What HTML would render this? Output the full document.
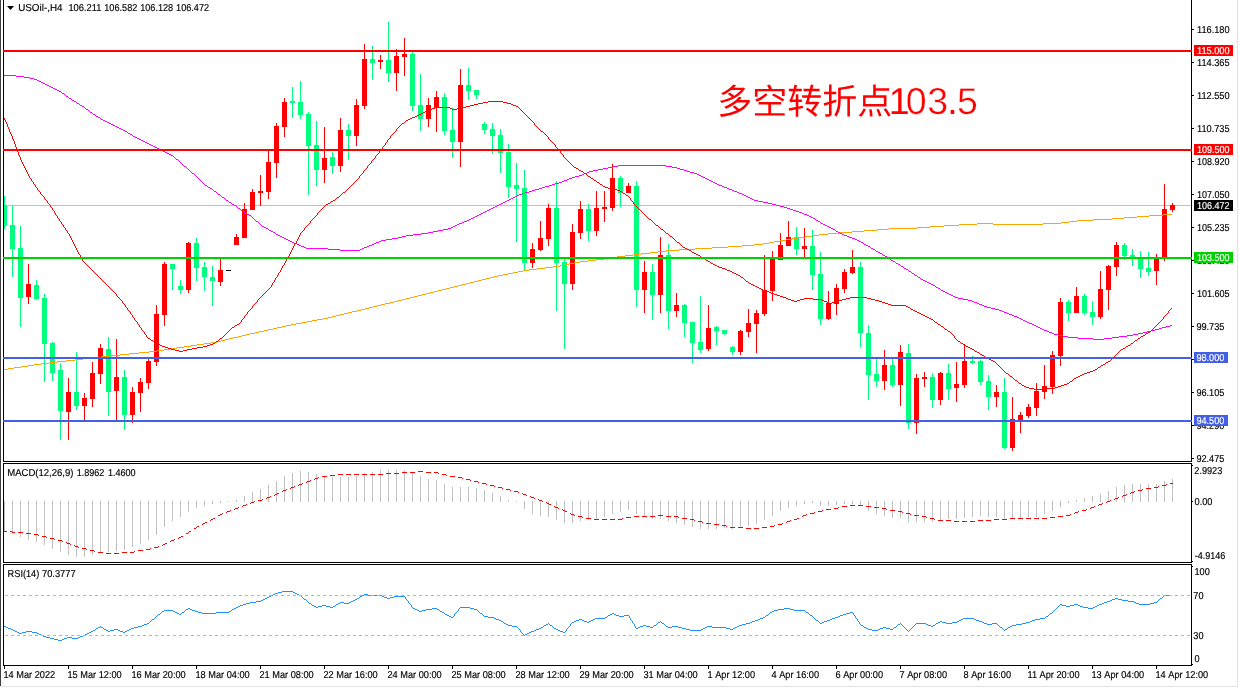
<!DOCTYPE html>
<html><head><meta charset="utf-8"><title>USOil H4</title>
<style>html,body{margin:0;padding:0;background:#fff;overflow:hidden}svg{display:block;will-change:transform}</style></head>
<body>
<svg width="1239" height="688" viewBox="0 0 1239 688" font-family="'Liberation Sans', sans-serif" text-rendering="geometricPrecision">
<rect x="0" y="0" width="1239" height="688" fill="#fff"/>
<g shape-rendering="crispEdges">
<rect x="0" y="0" width="1" height="686" fill="#404040"/>
<rect x="0" y="686" width="1238" height="1" fill="#e3e3e3"/>
<rect x="1237" y="0" width="1" height="686" fill="#e3e3e3"/>
<rect x="4" y="205" width="1187" height="1" fill="#c0c0c0"/>
<rect x="4" y="196" width="1" height="33" fill="#00ff7f"/>
<rect x="4" y="205" width="3" height="21" fill="#00ff7f"/>
<rect x="12" y="205" width="1" height="72" fill="#00ff7f"/>
<rect x="10" y="225" width="5" height="24" fill="#00ff7f"/>
<rect x="20" y="226" width="1" height="101" fill="#00ff7f"/>
<rect x="18" y="248" width="5" height="50" fill="#00ff7f"/>
<rect x="28" y="264" width="1" height="40" fill="#ff0000"/>
<rect x="26" y="284" width="5" height="13" fill="#ff0000"/>
<rect x="36" y="280" width="1" height="20" fill="#00ff7f"/>
<rect x="34" y="285" width="5" height="14" fill="#00ff7f"/>
<rect x="44" y="294" width="1" height="88" fill="#00ff7f"/>
<rect x="42" y="298" width="5" height="46" fill="#00ff7f"/>
<rect x="52" y="342" width="1" height="39" fill="#00ff7f"/>
<rect x="50" y="343" width="5" height="30" fill="#00ff7f"/>
<rect x="60" y="363" width="1" height="77" fill="#00ff7f"/>
<rect x="58" y="370" width="5" height="41" fill="#00ff7f"/>
<rect x="68" y="378" width="1" height="62" fill="#ff0000"/>
<rect x="66" y="392" width="5" height="20" fill="#ff0000"/>
<rect x="76" y="352" width="1" height="58" fill="#00ff7f"/>
<rect x="74" y="392" width="5" height="14" fill="#00ff7f"/>
<rect x="84" y="393" width="1" height="27" fill="#ff0000"/>
<rect x="82" y="398" width="5" height="8" fill="#ff0000"/>
<rect x="92" y="362" width="1" height="45" fill="#ff0000"/>
<rect x="90" y="373" width="5" height="26" fill="#ff0000"/>
<rect x="100" y="344" width="1" height="40" fill="#ff0000"/>
<rect x="98" y="348" width="5" height="26" fill="#ff0000"/>
<rect x="108" y="337" width="1" height="79" fill="#00ff7f"/>
<rect x="106" y="349" width="5" height="43" fill="#00ff7f"/>
<rect x="116" y="339" width="1" height="81" fill="#ff0000"/>
<rect x="114" y="377" width="5" height="14" fill="#ff0000"/>
<rect x="124" y="370" width="1" height="60" fill="#00ff7f"/>
<rect x="122" y="377" width="5" height="38" fill="#00ff7f"/>
<rect x="132" y="387" width="1" height="36" fill="#ff0000"/>
<rect x="130" y="392" width="5" height="23" fill="#ff0000"/>
<rect x="140" y="378" width="1" height="34" fill="#ff0000"/>
<rect x="138" y="382" width="5" height="11" fill="#ff0000"/>
<rect x="148" y="359" width="1" height="30" fill="#ff0000"/>
<rect x="146" y="361" width="5" height="22" fill="#ff0000"/>
<rect x="156" y="305" width="1" height="61" fill="#ff0000"/>
<rect x="154" y="314" width="5" height="48" fill="#ff0000"/>
<rect x="164" y="262" width="1" height="64" fill="#ff0000"/>
<rect x="162" y="264" width="5" height="51" fill="#ff0000"/>
<rect x="172" y="264" width="1" height="26" fill="#00ff7f"/>
<rect x="170" y="264" width="5" height="5" fill="#00ff7f"/>
<rect x="180" y="280" width="1" height="14" fill="#00ff7f"/>
<rect x="178" y="286" width="5" height="4" fill="#00ff7f"/>
<rect x="188" y="242" width="1" height="51" fill="#ff0000"/>
<rect x="186" y="243" width="5" height="47" fill="#ff0000"/>
<rect x="196" y="238" width="1" height="43" fill="#00ff7f"/>
<rect x="194" y="243" width="5" height="25" fill="#00ff7f"/>
<rect x="204" y="262" width="1" height="29" fill="#00ff7f"/>
<rect x="202" y="267" width="5" height="10" fill="#00ff7f"/>
<rect x="212" y="266" width="1" height="40" fill="#00ff7f"/>
<rect x="210" y="277" width="5" height="4" fill="#00ff7f"/>
<rect x="220" y="259" width="1" height="27" fill="#ff0000"/>
<rect x="218" y="270" width="5" height="12" fill="#ff0000"/>
<rect x="226" y="270" width="5" height="1" fill="#000"/>
<rect x="236" y="234" width="1" height="11" fill="#ff0000"/>
<rect x="234" y="237" width="5" height="8" fill="#ff0000"/>
<rect x="244" y="203" width="1" height="35" fill="#ff0000"/>
<rect x="242" y="209" width="5" height="29" fill="#ff0000"/>
<rect x="252" y="189" width="1" height="21" fill="#ff0000"/>
<rect x="250" y="192" width="5" height="18" fill="#ff0000"/>
<rect x="260" y="175" width="1" height="31" fill="#ff0000"/>
<rect x="258" y="191" width="5" height="2" fill="#ff0000"/>
<rect x="268" y="151" width="1" height="48" fill="#ff0000"/>
<rect x="266" y="162" width="5" height="30" fill="#ff0000"/>
<rect x="276" y="123" width="1" height="55" fill="#ff0000"/>
<rect x="274" y="126" width="5" height="37" fill="#ff0000"/>
<rect x="284" y="98" width="1" height="39" fill="#ff0000"/>
<rect x="282" y="102" width="5" height="25" fill="#ff0000"/>
<rect x="292" y="87" width="1" height="31" fill="#00ff7f"/>
<rect x="290" y="101" width="5" height="2" fill="#00ff7f"/>
<rect x="300" y="81" width="1" height="38" fill="#00ff7f"/>
<rect x="298" y="102" width="5" height="13" fill="#00ff7f"/>
<rect x="308" y="112" width="1" height="83" fill="#00ff7f"/>
<rect x="306" y="114" width="5" height="32" fill="#00ff7f"/>
<rect x="316" y="121" width="1" height="65" fill="#00ff7f"/>
<rect x="314" y="145" width="5" height="25" fill="#00ff7f"/>
<rect x="324" y="127" width="1" height="56" fill="#ff0000"/>
<rect x="322" y="158" width="5" height="12" fill="#ff0000"/>
<rect x="332" y="152" width="1" height="22" fill="#00ff7f"/>
<rect x="330" y="157" width="5" height="9" fill="#00ff7f"/>
<rect x="340" y="118" width="1" height="54" fill="#ff0000"/>
<rect x="338" y="130" width="5" height="36" fill="#ff0000"/>
<rect x="348" y="124" width="1" height="36" fill="#00ff7f"/>
<rect x="346" y="130" width="5" height="6" fill="#00ff7f"/>
<rect x="356" y="99" width="1" height="47" fill="#ff0000"/>
<rect x="354" y="105" width="5" height="31" fill="#ff0000"/>
<rect x="364" y="44" width="1" height="65" fill="#ff0000"/>
<rect x="362" y="59" width="5" height="47" fill="#ff0000"/>
<rect x="372" y="46" width="1" height="34" fill="#00ff7f"/>
<rect x="370" y="59" width="5" height="4" fill="#00ff7f"/>
<rect x="380" y="55" width="1" height="14" fill="#ff0000"/>
<rect x="378" y="60" width="5" height="2" fill="#ff0000"/>
<rect x="388" y="22" width="1" height="60" fill="#00ff7f"/>
<rect x="386" y="60" width="5" height="13" fill="#00ff7f"/>
<rect x="396" y="49" width="1" height="42" fill="#ff0000"/>
<rect x="394" y="56" width="5" height="17" fill="#ff0000"/>
<rect x="404" y="38" width="1" height="38" fill="#ff0000"/>
<rect x="402" y="54" width="5" height="3" fill="#ff0000"/>
<rect x="412" y="52" width="1" height="59" fill="#00ff7f"/>
<rect x="410" y="54" width="5" height="52" fill="#00ff7f"/>
<rect x="420" y="74" width="1" height="57" fill="#00ff7f"/>
<rect x="418" y="105" width="5" height="14" fill="#00ff7f"/>
<rect x="428" y="98" width="1" height="29" fill="#ff0000"/>
<rect x="426" y="105" width="5" height="14" fill="#ff0000"/>
<rect x="436" y="91" width="1" height="41" fill="#ff0000"/>
<rect x="434" y="97" width="5" height="11" fill="#ff0000"/>
<rect x="444" y="93" width="1" height="42" fill="#00ff7f"/>
<rect x="442" y="97" width="5" height="34" fill="#00ff7f"/>
<rect x="452" y="108" width="1" height="50" fill="#00ff7f"/>
<rect x="450" y="130" width="5" height="12" fill="#00ff7f"/>
<rect x="460" y="69" width="1" height="98" fill="#ff0000"/>
<rect x="458" y="85" width="5" height="57" fill="#ff0000"/>
<rect x="468" y="68" width="1" height="32" fill="#00ff7f"/>
<rect x="466" y="85" width="5" height="6" fill="#00ff7f"/>
<rect x="476" y="90" width="1" height="9" fill="#00ff7f"/>
<rect x="474" y="90" width="5" height="5" fill="#00ff7f"/>
<rect x="484" y="122" width="1" height="12" fill="#00ff7f"/>
<rect x="482" y="124" width="5" height="6" fill="#00ff7f"/>
<rect x="492" y="123" width="1" height="31" fill="#00ff7f"/>
<rect x="490" y="129" width="5" height="7" fill="#00ff7f"/>
<rect x="500" y="129" width="1" height="44" fill="#00ff7f"/>
<rect x="498" y="135" width="5" height="18" fill="#00ff7f"/>
<rect x="508" y="144" width="1" height="54" fill="#00ff7f"/>
<rect x="506" y="152" width="5" height="35" fill="#00ff7f"/>
<rect x="516" y="163" width="1" height="79" fill="#00ff7f"/>
<rect x="514" y="185" width="5" height="4" fill="#00ff7f"/>
<rect x="524" y="170" width="1" height="101" fill="#00ff7f"/>
<rect x="522" y="188" width="5" height="75" fill="#00ff7f"/>
<rect x="532" y="243" width="1" height="25" fill="#ff0000"/>
<rect x="530" y="249" width="5" height="14" fill="#ff0000"/>
<rect x="540" y="221" width="1" height="30" fill="#ff0000"/>
<rect x="538" y="238" width="5" height="12" fill="#ff0000"/>
<rect x="548" y="204" width="1" height="42" fill="#ff0000"/>
<rect x="546" y="208" width="5" height="31" fill="#ff0000"/>
<rect x="556" y="181" width="1" height="130" fill="#00ff7f"/>
<rect x="554" y="208" width="5" height="55" fill="#00ff7f"/>
<rect x="564" y="259" width="1" height="90" fill="#00ff7f"/>
<rect x="562" y="262" width="5" height="22" fill="#00ff7f"/>
<rect x="572" y="224" width="1" height="66" fill="#ff0000"/>
<rect x="570" y="232" width="5" height="52" fill="#ff0000"/>
<rect x="580" y="201" width="1" height="38" fill="#ff0000"/>
<rect x="578" y="209" width="5" height="24" fill="#ff0000"/>
<rect x="588" y="204" width="1" height="37" fill="#00ff7f"/>
<rect x="586" y="209" width="5" height="22" fill="#00ff7f"/>
<rect x="596" y="191" width="1" height="45" fill="#ff0000"/>
<rect x="594" y="208" width="5" height="23" fill="#ff0000"/>
<rect x="604" y="191" width="1" height="31" fill="#ff0000"/>
<rect x="602" y="207" width="5" height="2" fill="#ff0000"/>
<rect x="612" y="164" width="1" height="47" fill="#ff0000"/>
<rect x="610" y="178" width="5" height="30" fill="#ff0000"/>
<rect x="620" y="176" width="1" height="31" fill="#00ff7f"/>
<rect x="618" y="178" width="5" height="15" fill="#00ff7f"/>
<rect x="628" y="183" width="1" height="10" fill="#ff0000"/>
<rect x="626" y="186" width="5" height="7" fill="#ff0000"/>
<rect x="636" y="181" width="1" height="126" fill="#00ff7f"/>
<rect x="634" y="186" width="5" height="104" fill="#00ff7f"/>
<rect x="644" y="261" width="1" height="52" fill="#ff0000"/>
<rect x="642" y="272" width="5" height="18" fill="#ff0000"/>
<rect x="652" y="264" width="1" height="56" fill="#00ff7f"/>
<rect x="650" y="272" width="5" height="23" fill="#00ff7f"/>
<rect x="660" y="237" width="1" height="76" fill="#ff0000"/>
<rect x="658" y="255" width="5" height="40" fill="#ff0000"/>
<rect x="668" y="244" width="1" height="85" fill="#00ff7f"/>
<rect x="666" y="255" width="5" height="56" fill="#00ff7f"/>
<rect x="676" y="293" width="1" height="24" fill="#ff0000"/>
<rect x="674" y="305" width="5" height="6" fill="#ff0000"/>
<rect x="684" y="304" width="1" height="33" fill="#00ff7f"/>
<rect x="682" y="305" width="5" height="18" fill="#00ff7f"/>
<rect x="692" y="322" width="1" height="41" fill="#00ff7f"/>
<rect x="690" y="322" width="5" height="21" fill="#00ff7f"/>
<rect x="700" y="296" width="1" height="57" fill="#00ff7f"/>
<rect x="698" y="342" width="5" height="8" fill="#00ff7f"/>
<rect x="708" y="305" width="1" height="46" fill="#ff0000"/>
<rect x="706" y="328" width="5" height="21" fill="#ff0000"/>
<rect x="716" y="326" width="1" height="19" fill="#00ff7f"/>
<rect x="714" y="327" width="5" height="4" fill="#00ff7f"/>
<rect x="724" y="330" width="1" height="5" fill="#00ff7f"/>
<rect x="722" y="330" width="5" height="4" fill="#00ff7f"/>
<rect x="732" y="346" width="1" height="9" fill="#00ff7f"/>
<rect x="730" y="347" width="5" height="5" fill="#00ff7f"/>
<rect x="740" y="330" width="1" height="25" fill="#ff0000"/>
<rect x="738" y="331" width="5" height="21" fill="#ff0000"/>
<rect x="748" y="309" width="1" height="28" fill="#ff0000"/>
<rect x="746" y="323" width="5" height="9" fill="#ff0000"/>
<rect x="756" y="310" width="1" height="43" fill="#ff0000"/>
<rect x="754" y="313" width="5" height="11" fill="#ff0000"/>
<rect x="764" y="255" width="1" height="61" fill="#ff0000"/>
<rect x="762" y="290" width="5" height="24" fill="#ff0000"/>
<rect x="772" y="251" width="1" height="50" fill="#ff0000"/>
<rect x="770" y="258" width="5" height="33" fill="#ff0000"/>
<rect x="780" y="233" width="1" height="27" fill="#ff0000"/>
<rect x="778" y="245" width="5" height="15" fill="#ff0000"/>
<rect x="788" y="221" width="1" height="25" fill="#ff0000"/>
<rect x="786" y="237" width="5" height="9" fill="#ff0000"/>
<rect x="796" y="227" width="1" height="28" fill="#00ff7f"/>
<rect x="794" y="237" width="5" height="12" fill="#00ff7f"/>
<rect x="804" y="228" width="1" height="29" fill="#ff0000"/>
<rect x="802" y="246" width="5" height="3" fill="#ff0000"/>
<rect x="812" y="230" width="1" height="60" fill="#00ff7f"/>
<rect x="810" y="246" width="5" height="29" fill="#00ff7f"/>
<rect x="820" y="252" width="1" height="73" fill="#00ff7f"/>
<rect x="818" y="274" width="5" height="45" fill="#00ff7f"/>
<rect x="828" y="291" width="1" height="29" fill="#ff0000"/>
<rect x="826" y="303" width="5" height="16" fill="#ff0000"/>
<rect x="836" y="284" width="1" height="31" fill="#ff0000"/>
<rect x="834" y="288" width="5" height="16" fill="#ff0000"/>
<rect x="844" y="269" width="1" height="24" fill="#ff0000"/>
<rect x="842" y="272" width="5" height="17" fill="#ff0000"/>
<rect x="852" y="250" width="1" height="24" fill="#ff0000"/>
<rect x="850" y="267" width="5" height="6" fill="#ff0000"/>
<rect x="860" y="262" width="1" height="85" fill="#00ff7f"/>
<rect x="858" y="267" width="5" height="66" fill="#00ff7f"/>
<rect x="868" y="325" width="1" height="75" fill="#00ff7f"/>
<rect x="866" y="333" width="5" height="42" fill="#00ff7f"/>
<rect x="876" y="359" width="1" height="28" fill="#00ff7f"/>
<rect x="874" y="374" width="5" height="7" fill="#00ff7f"/>
<rect x="884" y="350" width="1" height="40" fill="#ff0000"/>
<rect x="882" y="365" width="5" height="16" fill="#ff0000"/>
<rect x="892" y="359" width="1" height="28" fill="#00ff7f"/>
<rect x="890" y="365" width="5" height="20" fill="#00ff7f"/>
<rect x="900" y="345" width="1" height="61" fill="#ff0000"/>
<rect x="898" y="352" width="5" height="33" fill="#ff0000"/>
<rect x="908" y="344" width="1" height="85" fill="#00ff7f"/>
<rect x="906" y="353" width="5" height="70" fill="#00ff7f"/>
<rect x="916" y="374" width="1" height="60" fill="#ff0000"/>
<rect x="914" y="378" width="5" height="45" fill="#ff0000"/>
<rect x="924" y="372" width="1" height="15" fill="#ff0000"/>
<rect x="922" y="377" width="5" height="2" fill="#ff0000"/>
<rect x="932" y="373" width="1" height="35" fill="#00ff7f"/>
<rect x="930" y="377" width="5" height="23" fill="#00ff7f"/>
<rect x="940" y="372" width="1" height="33" fill="#ff0000"/>
<rect x="938" y="373" width="5" height="27" fill="#ff0000"/>
<rect x="948" y="364" width="1" height="36" fill="#00ff7f"/>
<rect x="946" y="373" width="5" height="16" fill="#00ff7f"/>
<rect x="956" y="362" width="1" height="40" fill="#ff0000"/>
<rect x="954" y="384" width="5" height="4" fill="#ff0000"/>
<rect x="964" y="345" width="1" height="43" fill="#ff0000"/>
<rect x="962" y="361" width="5" height="24" fill="#ff0000"/>
<rect x="972" y="356" width="1" height="8" fill="#00ff7f"/>
<rect x="970" y="361" width="5" height="2" fill="#00ff7f"/>
<rect x="980" y="360" width="1" height="25" fill="#00ff7f"/>
<rect x="978" y="361" width="5" height="21" fill="#00ff7f"/>
<rect x="988" y="375" width="1" height="35" fill="#00ff7f"/>
<rect x="986" y="381" width="5" height="16" fill="#00ff7f"/>
<rect x="996" y="385" width="1" height="22" fill="#ff0000"/>
<rect x="994" y="392" width="5" height="5" fill="#ff0000"/>
<rect x="1004" y="378" width="1" height="71" fill="#00ff7f"/>
<rect x="1002" y="392" width="5" height="56" fill="#00ff7f"/>
<rect x="1012" y="397" width="1" height="54" fill="#ff0000"/>
<rect x="1010" y="419" width="5" height="29" fill="#ff0000"/>
<rect x="1020" y="412" width="1" height="21" fill="#ff0000"/>
<rect x="1018" y="415" width="5" height="5" fill="#ff0000"/>
<rect x="1028" y="404" width="1" height="14" fill="#ff0000"/>
<rect x="1026" y="407" width="5" height="9" fill="#ff0000"/>
<rect x="1036" y="383" width="1" height="33" fill="#ff0000"/>
<rect x="1034" y="391" width="5" height="17" fill="#ff0000"/>
<rect x="1044" y="365" width="1" height="34" fill="#ff0000"/>
<rect x="1042" y="386" width="5" height="6" fill="#ff0000"/>
<rect x="1052" y="351" width="1" height="43" fill="#ff0000"/>
<rect x="1050" y="355" width="5" height="32" fill="#ff0000"/>
<rect x="1060" y="298" width="1" height="68" fill="#ff0000"/>
<rect x="1058" y="302" width="5" height="54" fill="#ff0000"/>
<rect x="1068" y="300" width="1" height="21" fill="#00ff7f"/>
<rect x="1066" y="302" width="5" height="11" fill="#00ff7f"/>
<rect x="1076" y="287" width="1" height="26" fill="#ff0000"/>
<rect x="1074" y="296" width="5" height="17" fill="#ff0000"/>
<rect x="1084" y="294" width="1" height="21" fill="#00ff7f"/>
<rect x="1082" y="296" width="5" height="17" fill="#00ff7f"/>
<rect x="1092" y="301" width="1" height="24" fill="#00ff7f"/>
<rect x="1090" y="312" width="5" height="5" fill="#00ff7f"/>
<rect x="1100" y="271" width="1" height="48" fill="#ff0000"/>
<rect x="1098" y="289" width="5" height="28" fill="#ff0000"/>
<rect x="1108" y="265" width="1" height="45" fill="#ff0000"/>
<rect x="1106" y="266" width="5" height="24" fill="#ff0000"/>
<rect x="1116" y="242" width="1" height="34" fill="#ff0000"/>
<rect x="1114" y="245" width="5" height="22" fill="#ff0000"/>
<rect x="1124" y="243" width="1" height="17" fill="#00ff7f"/>
<rect x="1122" y="245" width="5" height="11" fill="#00ff7f"/>
<rect x="1132" y="249" width="1" height="17" fill="#00ff7f"/>
<rect x="1130" y="255" width="5" height="2" fill="#00ff7f"/>
<rect x="1140" y="251" width="1" height="27" fill="#00ff7f"/>
<rect x="1138" y="258" width="5" height="11" fill="#00ff7f"/>
<rect x="1148" y="252" width="1" height="24" fill="#00ff7f"/>
<rect x="1146" y="268" width="5" height="4" fill="#00ff7f"/>
<rect x="1156" y="254" width="1" height="31" fill="#ff0000"/>
<rect x="1154" y="258" width="5" height="13" fill="#ff0000"/>
<rect x="1164" y="184" width="1" height="77" fill="#ff0000"/>
<rect x="1162" y="209" width="5" height="48" fill="#ff0000"/>
<rect x="1172" y="203" width="1" height="9" fill="#ff0000"/>
<rect x="1170" y="205" width="5" height="5" fill="#ff0000"/>
<rect x="4" y="501" width="1" height="30" fill="#c0c0c0"/>
<rect x="12" y="501" width="1" height="33" fill="#c0c0c0"/>
<rect x="20" y="501" width="1" height="36" fill="#c0c0c0"/>
<rect x="28" y="501" width="1" height="39" fill="#c0c0c0"/>
<rect x="36" y="501" width="1" height="41" fill="#c0c0c0"/>
<rect x="44" y="501" width="1" height="44" fill="#c0c0c0"/>
<rect x="52" y="501" width="1" height="48" fill="#c0c0c0"/>
<rect x="60" y="501" width="1" height="51" fill="#c0c0c0"/>
<rect x="68" y="501" width="1" height="54" fill="#c0c0c0"/>
<rect x="76" y="501" width="1" height="56" fill="#c0c0c0"/>
<rect x="84" y="501" width="1" height="56" fill="#c0c0c0"/>
<rect x="92" y="501" width="1" height="54" fill="#c0c0c0"/>
<rect x="100" y="501" width="1" height="52" fill="#c0c0c0"/>
<rect x="108" y="501" width="1" height="51" fill="#c0c0c0"/>
<rect x="116" y="501" width="1" height="50" fill="#c0c0c0"/>
<rect x="124" y="501" width="1" height="49" fill="#c0c0c0"/>
<rect x="132" y="501" width="1" height="46" fill="#c0c0c0"/>
<rect x="140" y="501" width="1" height="43" fill="#c0c0c0"/>
<rect x="148" y="501" width="1" height="39" fill="#c0c0c0"/>
<rect x="156" y="501" width="1" height="34" fill="#c0c0c0"/>
<rect x="164" y="501" width="1" height="26" fill="#c0c0c0"/>
<rect x="172" y="501" width="1" height="20" fill="#c0c0c0"/>
<rect x="180" y="501" width="1" height="16" fill="#c0c0c0"/>
<rect x="188" y="501" width="1" height="11" fill="#c0c0c0"/>
<rect x="196" y="501" width="1" height="7" fill="#c0c0c0"/>
<rect x="204" y="501" width="1" height="5" fill="#c0c0c0"/>
<rect x="212" y="501" width="1" height="3" fill="#c0c0c0"/>
<rect x="220" y="501" width="1" height="2" fill="#c0c0c0"/>
<rect x="228" y="501" width="1" height="1" fill="#c0c0c0"/>
<rect x="236" y="500" width="1" height="2" fill="#c0c0c0"/>
<rect x="244" y="496" width="1" height="6" fill="#c0c0c0"/>
<rect x="252" y="492" width="1" height="10" fill="#c0c0c0"/>
<rect x="260" y="489" width="1" height="13" fill="#c0c0c0"/>
<rect x="268" y="485" width="1" height="17" fill="#c0c0c0"/>
<rect x="276" y="481" width="1" height="21" fill="#c0c0c0"/>
<rect x="284" y="476" width="1" height="26" fill="#c0c0c0"/>
<rect x="292" y="473" width="1" height="29" fill="#c0c0c0"/>
<rect x="300" y="471" width="1" height="31" fill="#c0c0c0"/>
<rect x="308" y="472" width="1" height="30" fill="#c0c0c0"/>
<rect x="316" y="474" width="1" height="28" fill="#c0c0c0"/>
<rect x="324" y="476" width="1" height="26" fill="#c0c0c0"/>
<rect x="332" y="477" width="1" height="25" fill="#c0c0c0"/>
<rect x="340" y="477" width="1" height="25" fill="#c0c0c0"/>
<rect x="348" y="477" width="1" height="25" fill="#c0c0c0"/>
<rect x="356" y="476" width="1" height="26" fill="#c0c0c0"/>
<rect x="364" y="473" width="1" height="29" fill="#c0c0c0"/>
<rect x="372" y="472" width="1" height="30" fill="#c0c0c0"/>
<rect x="380" y="470" width="1" height="32" fill="#c0c0c0"/>
<rect x="388" y="470" width="1" height="32" fill="#c0c0c0"/>
<rect x="396" y="470" width="1" height="32" fill="#c0c0c0"/>
<rect x="404" y="470" width="1" height="32" fill="#c0c0c0"/>
<rect x="412" y="472" width="1" height="30" fill="#c0c0c0"/>
<rect x="420" y="476" width="1" height="26" fill="#c0c0c0"/>
<rect x="428" y="479" width="1" height="23" fill="#c0c0c0"/>
<rect x="436" y="480" width="1" height="22" fill="#c0c0c0"/>
<rect x="444" y="484" width="1" height="18" fill="#c0c0c0"/>
<rect x="452" y="487" width="1" height="15" fill="#c0c0c0"/>
<rect x="460" y="487" width="1" height="15" fill="#c0c0c0"/>
<rect x="468" y="487" width="1" height="15" fill="#c0c0c0"/>
<rect x="476" y="488" width="1" height="14" fill="#c0c0c0"/>
<rect x="484" y="490" width="1" height="12" fill="#c0c0c0"/>
<rect x="492" y="493" width="1" height="9" fill="#c0c0c0"/>
<rect x="500" y="496" width="1" height="6" fill="#c0c0c0"/>
<rect x="508" y="500" width="1" height="2" fill="#c0c0c0"/>
<rect x="516" y="501" width="1" height="1" fill="#c0c0c0"/>
<rect x="524" y="501" width="1" height="8" fill="#c0c0c0"/>
<rect x="532" y="501" width="1" height="13" fill="#c0c0c0"/>
<rect x="540" y="501" width="1" height="15" fill="#c0c0c0"/>
<rect x="548" y="501" width="1" height="16" fill="#c0c0c0"/>
<rect x="556" y="501" width="1" height="19" fill="#c0c0c0"/>
<rect x="564" y="501" width="1" height="22" fill="#c0c0c0"/>
<rect x="572" y="501" width="1" height="22" fill="#c0c0c0"/>
<rect x="580" y="501" width="1" height="20" fill="#c0c0c0"/>
<rect x="588" y="501" width="1" height="19" fill="#c0c0c0"/>
<rect x="596" y="501" width="1" height="18" fill="#c0c0c0"/>
<rect x="604" y="501" width="1" height="16" fill="#c0c0c0"/>
<rect x="612" y="501" width="1" height="13" fill="#c0c0c0"/>
<rect x="620" y="501" width="1" height="11" fill="#c0c0c0"/>
<rect x="628" y="501" width="1" height="9" fill="#c0c0c0"/>
<rect x="636" y="501" width="1" height="13" fill="#c0c0c0"/>
<rect x="644" y="501" width="1" height="16" fill="#c0c0c0"/>
<rect x="652" y="501" width="1" height="18" fill="#c0c0c0"/>
<rect x="660" y="501" width="1" height="18" fill="#c0c0c0"/>
<rect x="668" y="501" width="1" height="20" fill="#c0c0c0"/>
<rect x="676" y="501" width="1" height="22" fill="#c0c0c0"/>
<rect x="684" y="501" width="1" height="24" fill="#c0c0c0"/>
<rect x="692" y="501" width="1" height="26" fill="#c0c0c0"/>
<rect x="700" y="501" width="1" height="28" fill="#c0c0c0"/>
<rect x="708" y="501" width="1" height="28" fill="#c0c0c0"/>
<rect x="716" y="501" width="1" height="28" fill="#c0c0c0"/>
<rect x="724" y="501" width="1" height="27" fill="#c0c0c0"/>
<rect x="732" y="501" width="1" height="28" fill="#c0c0c0"/>
<rect x="740" y="501" width="1" height="26" fill="#c0c0c0"/>
<rect x="748" y="501" width="1" height="25" fill="#c0c0c0"/>
<rect x="756" y="501" width="1" height="23" fill="#c0c0c0"/>
<rect x="764" y="501" width="1" height="19" fill="#c0c0c0"/>
<rect x="772" y="501" width="1" height="15" fill="#c0c0c0"/>
<rect x="780" y="501" width="1" height="10" fill="#c0c0c0"/>
<rect x="788" y="501" width="1" height="7" fill="#c0c0c0"/>
<rect x="796" y="501" width="1" height="5" fill="#c0c0c0"/>
<rect x="804" y="501" width="1" height="3" fill="#c0c0c0"/>
<rect x="812" y="501" width="1" height="2" fill="#c0c0c0"/>
<rect x="820" y="501" width="1" height="5" fill="#c0c0c0"/>
<rect x="828" y="501" width="1" height="5" fill="#c0c0c0"/>
<rect x="836" y="501" width="1" height="4" fill="#c0c0c0"/>
<rect x="844" y="501" width="1" height="3" fill="#c0c0c0"/>
<rect x="852" y="501" width="1" height="3" fill="#c0c0c0"/>
<rect x="860" y="501" width="1" height="5" fill="#c0c0c0"/>
<rect x="868" y="501" width="1" height="10" fill="#c0c0c0"/>
<rect x="876" y="501" width="1" height="13" fill="#c0c0c0"/>
<rect x="884" y="501" width="1" height="15" fill="#c0c0c0"/>
<rect x="892" y="501" width="1" height="17" fill="#c0c0c0"/>
<rect x="900" y="501" width="1" height="17" fill="#c0c0c0"/>
<rect x="908" y="501" width="1" height="21" fill="#c0c0c0"/>
<rect x="916" y="501" width="1" height="21" fill="#c0c0c0"/>
<rect x="924" y="501" width="1" height="21" fill="#c0c0c0"/>
<rect x="932" y="501" width="1" height="21" fill="#c0c0c0"/>
<rect x="940" y="501" width="1" height="20" fill="#c0c0c0"/>
<rect x="948" y="501" width="1" height="18" fill="#c0c0c0"/>
<rect x="956" y="501" width="1" height="18" fill="#c0c0c0"/>
<rect x="964" y="501" width="1" height="17" fill="#c0c0c0"/>
<rect x="972" y="501" width="1" height="16" fill="#c0c0c0"/>
<rect x="980" y="501" width="1" height="15" fill="#c0c0c0"/>
<rect x="988" y="501" width="1" height="16" fill="#c0c0c0"/>
<rect x="996" y="501" width="1" height="16" fill="#c0c0c0"/>
<rect x="1004" y="501" width="1" height="19" fill="#c0c0c0"/>
<rect x="1012" y="501" width="1" height="18" fill="#c0c0c0"/>
<rect x="1020" y="501" width="1" height="17" fill="#c0c0c0"/>
<rect x="1028" y="501" width="1" height="16" fill="#c0c0c0"/>
<rect x="1036" y="501" width="1" height="16" fill="#c0c0c0"/>
<rect x="1044" y="501" width="1" height="13" fill="#c0c0c0"/>
<rect x="1052" y="501" width="1" height="10" fill="#c0c0c0"/>
<rect x="1060" y="501" width="1" height="6" fill="#c0c0c0"/>
<rect x="1068" y="501" width="1" height="2" fill="#c0c0c0"/>
<rect x="1076" y="500" width="1" height="2" fill="#c0c0c0"/>
<rect x="1084" y="498" width="1" height="4" fill="#c0c0c0"/>
<rect x="1092" y="496" width="1" height="6" fill="#c0c0c0"/>
<rect x="1100" y="494" width="1" height="8" fill="#c0c0c0"/>
<rect x="1108" y="491" width="1" height="11" fill="#c0c0c0"/>
<rect x="1116" y="487" width="1" height="15" fill="#c0c0c0"/>
<rect x="1124" y="485" width="1" height="17" fill="#c0c0c0"/>
<rect x="1132" y="484" width="1" height="18" fill="#c0c0c0"/>
<rect x="1140" y="484" width="1" height="18" fill="#c0c0c0"/>
<rect x="1148" y="484" width="1" height="18" fill="#c0c0c0"/>
<rect x="1156" y="484" width="1" height="18" fill="#c0c0c0"/>
<rect x="1164" y="481" width="1" height="21" fill="#c0c0c0"/>
<rect x="1172" y="479" width="1" height="23" fill="#c0c0c0"/>
</g>
<path d="M28 365.5h6M1093 219.5h19M508 273.5h5M402 299.5h4M742 245.5h12M129 353.5h10M302 322.5h5M763 243.5h6M695 248.5h17M596 259.5h8M959 224.5h18M993 224.5h50M679 249.5h16M805 236.5h7M14 367.5h7M877 229.5h12M426 293.5h4M490 277.5h4M92 357.5h9M211 342.5h6M712 247.5h16M406 298.5h4M291 324.5h5M470 282.5h4M66 360.5h9M268 329.5h5M1163 214.5h9M1077 220.5h16M238 336.5h4M917 227.5h13M8 368.5h6M617 256.5h8M977 223.5h16M1043 223.5h18M633 254.5h8M889 228.5h28M494 276.5h4M390 302.5h4M197 344.5h7M819 234.5h9M34 364.5h7M852 231.5h12M1149 215.5h14M49 362.5h8M369 307.5h4M944 225.5h15M513 272.5h5M769 242.5h5M434 291.5h4M317 319.5h6M604 258.5h7M110 355.5h10M414 296.5h4M478 280.5h4M1061 222.5h8M394 301.5h4M21 366.5h7M277 327.5h5M458 285.5h4M553 266.5h7M41 363.5h8M225 339.5h4M574 262.5h6M75 359.5h8M503 274.5h5M588 260.5h8M728 246.5h14M482 279.5h4M377 305.5h4M259 331.5h5M930 226.5h14M523 270.5h6M537 268.5h8M357 310.5h4M641 253.5h9M204 343.5h7M864 230.5h13M422 294.5h4M57 361.5h9M580 261.5h8M83 358.5h9M828 233.5h12M286 325.5h5M466 283.5h4M1112 218.5h12M446 288.5h4M264 330.5h4M120 354.5h9M340 314.5h4M529 269.5h8M611 257.5h6M233 337.5h5M625 255.5h8M1069 221.5h8M840 232.5h12M560 265.5h5M385 303.5h5M191 345.5h6M812 235.5h7M246 334.5h4M1124 217.5h13M312 320.5h5M650 252.5h8M164 349.5h6M786 239.5h6M177 347.5h7M798 237.5h7M454 286.5h4M273 328.5h4M221 340.5h4M569 263.5h5M149 351.5h8M170 348.5h7M792 238.5h6M4 369.5h4M518 271.5h5M774 241.5h6M296 323.5h6M1137 216.5h12M139 352.5h10M442 289.5h4M184 346.5h7M365 308.5h4M344 313.5h4M242 335.5h4M307 321.5h5M666 250.5h13M780 240.5h6M658 251.5h8M328 317.5h4M430 292.5h4M255 332.5h4M101 356.5h9M410 297.5h4M545 267.5h8M498 275.5h5M418 295.5h4M323 318.5h5M398 300.5h4M282 326.5h4M157 350.5h7M486 278.5h4M381 304.5h4M361 309.5h4M250 333.5h5M450 287.5h4M474 281.5h4M348 312.5h4M373 306.5h4M438 290.5h4M462 284.5h4M336 315.5h4M217 341.5h4M565 264.5h4M352 311.5h5M332 316.5h4M754 244.5h9M229 338.5h4" fill="none" stroke="#ffa500" stroke-width="1" shape-rendering="crispEdges"/>
<path d="M608 167.5h5M672 167.5h5M299 245.5h2M369 245.5h3M866 245.5h2M306 248.5h22M362 248.5h2M871 248.5h2M328 249.5h12M360 249.5h2M873 249.5h2M1054 334.5h4M1133 334.5h5M229 202.5h2M503 202.5h2M763 202.5h5M249 215.5h2M477 215.5h2M807 215.5h2M107 122.5h2M567 179.5h2M707 179.5h2M945 292.5h2M545 186.5h4M722 186.5h2M16 76.5h8M271 231.5h2M433 231.5h5M836 231.5h2M340 250.5h20M938 288.5h2M286 239.5h2M386 239.5h6M855 239.5h2M459 223.5h3M821 223.5h2M210 188.5h2M539 188.5h3M727 188.5h2M262 226.5h2M453 226.5h2M827 226.5h2M1040 328.5h2M1159 328.5h3M222 197.5h2M513 197.5h2M748 197.5h2M963 299.5h5M1078 338.5h15M1104 338.5h8M278 235.5h2M406 235.5h7M844 235.5h3M4 75.5h12M593 170.5h5M684 170.5h3M483 212.5h2M799 212.5h3M109 123.5h2M184 166.5h2M613 166.5h5M666 166.5h6M39 81.5h2M535 189.5h4M729 189.5h3M304 247.5h2M364 247.5h3M991 308.5h4M80 105.5h2M53 88.5h2M589 171.5h4M687 171.5h3M443 229.5h5M833 229.5h2M984 306.5h3M226 200.5h2M507 200.5h2M754 200.5h4M245 213.5h2M481 213.5h2M802 213.5h2M103 120.5h2M618 165.5h48M30 78.5h4M247 214.5h2M479 214.5h2M804 214.5h3M1052 333.5h2M1138 333.5h5M280 236.5h2M402 236.5h4M847 236.5h2M292 242.5h2M376 242.5h3M861 242.5h2M493 207.5h2M784 207.5h3M587 172.5h2M690 172.5h4M898 264.5h2M284 238.5h2M392 238.5h6M852 238.5h3M1068 337.5h10M1112 337.5h7M532 190.5h3M732 190.5h2M421 233.5h7M840 233.5h2M57 90.5h2M77 103.5h2M49 86.5h2M579 175.5h3M699 175.5h2M41 82.5h2M958 298.5h5M598 169.5h5M680 169.5h4M264 227.5h2M451 227.5h2M829 227.5h2M1058 335.5h5M1127 335.5h6M575 176.5h4M701 176.5h2M288 240.5h2M381 240.5h5M857 240.5h2M232 204.5h2M499 204.5h2M772 204.5h4M1063 336.5h5M1119 336.5h8M1093 339.5h11M522 193.5h3M739 193.5h3M987 307.5h4M896 263.5h2M98 117.5h2M929 283.5h2M290 241.5h2M379 241.5h2M859 241.5h2M151 145.5h2M555 183.5h4M715 183.5h2M517 195.5h2M744 195.5h2M93 114.5h2M475 216.5h2M809 216.5h2M214 191.5h2M529 191.5h3M734 191.5h3M462 222.5h2M297 244.5h2M372 244.5h2M864 244.5h2M489 209.5h2M790 209.5h3M933 285.5h2M266 228.5h2M448 228.5h3M831 228.5h2M562 181.5h2M711 181.5h2M205 185.5h2M549 185.5h3M719 185.5h3M457 224.5h2M823 224.5h2M294 243.5h3M374 243.5h2M918 277.5h2M147 143.5h2M218 194.5h2M519 194.5h3M742 194.5h2M139 139.5h2M552 184.5h3M717 184.5h2M455 225.5h2M825 225.5h2M515 196.5h2M746 196.5h2M276 234.5h2M413 234.5h8M842 234.5h2M1036 326.5h2M1166 326.5h4M282 237.5h2M398 237.5h4M849 237.5h3M69 98.5h2M1047 331.5h2M1147 331.5h4M891 260.5h2M495 206.5h2M780 206.5h4M582 174.5h2M697 174.5h2M501 203.5h2M768 203.5h4M1004 312.5h3M921 279.5h2M603 168.5h5M677 168.5h3M143 141.5h2M135 137.5h2M467 220.5h2M816 220.5h2M165 152.5h2M995 309.5h4M157 148.5h2M564 180.5h3M709 180.5h2M1042 329.5h2M1155 329.5h4M888 258.5h2M999 310.5h3M192 173.5h2M584 173.5h3M694 173.5h3M471 218.5h2M813 218.5h2M572 177.5h3M703 177.5h2M505 201.5h2M758 201.5h5M161 150.5h2M301 246.5h3M367 246.5h2M868 246.5h2M153 146.5h2M269 230.5h2M438 230.5h5M569 178.5h3M705 178.5h2M145 142.5h2M974 302.5h3M1007 313.5h2M1049 332.5h3M1143 332.5h4M1038 327.5h2M1162 327.5h4M487 210.5h2M793 210.5h3M208 187.5h2M542 187.5h3M724 187.5h3M273 232.5h2M428 232.5h5M838 232.5h2M525 192.5h4M737 192.5h2M509 199.5h2M752 199.5h2M149 144.5h2M238 208.5h2M491 208.5h2M787 208.5h3M141 140.5h2M1034 325.5h2M1170 325.5h2M469 219.5h2M968 300.5h4M1012 315.5h2M90 112.5h2M1044 330.5h3M1151 330.5h4M559 182.5h3M713 182.5h2M473 217.5h2M811 217.5h2M234 205.5h2M497 205.5h2M776 205.5h4M1029 323.5h3M86 109.5h2M909 271.5h2M242 211.5h2M485 211.5h2M796 211.5h3M972 301.5h2M24 77.5h6M1032 324.5h2M130 134.5h2M123 130.5h2M115 126.5h2M953 296.5h2M1025 321.5h2M1017 317.5h2M912 273.5h2M955 297.5h3M883 255.5h2M947 293.5h2M876 251.5h2M977 303.5h2M1019 318.5h2M1009 314.5h3M119 128.5h2M949 294.5h2M878 252.5h2M62 93.5h2M82 106.5h2M101 119.5h2M1021 319.5h2M951 295.5h2M880 253.5h2M943 291.5h2M1014 316.5h3M55 89.5h2M511 198.5h2M750 198.5h2M59 91.5h2M43 83.5h2M979 304.5h3M51 87.5h2M256 221.5h2M464 221.5h3M818 221.5h2M176 159.5h2M925 281.5h2M904 268.5h2M37 80.5h2M906 269.5h2M936 287.5h2M47 85.5h2M901 266.5h2M111 124.5h2M34 79.5h3M931 284.5h2M923 280.5h2M72 100.5h2M74 101.5h2M96 116.5h2M169 154.5h2M927 282.5h2M171 155.5h2M163 151.5h2M893 261.5h2M155 147.5h2M167 153.5h2M159 149.5h2M137 138.5h2M66 96.5h2M1002 311.5h2M1027 322.5h2M133 136.5h2M885 256.5h2M915 275.5h2M128 133.5h2M1023 320.5h2M982 305.5h2M941 290.5h2M125 131.5h2M121 129.5h2M113 125.5h2M45 84.5h2M117 127.5h2M105 121.5h2M875.5 250v1M895.5 262v1M237.5 207v1M244.5 212v1M212.5 189v1M870.5 247v1M198.5 178v1M183.5 165v1M84.5 107v1M194.5 174v1M132.5 135v1M207.5 186v1M76.5 102v1M195.5 175v1M213.5 190v1M220.5 195v1M835.5 230v1M89.5 111v1M900.5 265v1M173.5 156v1M65.5 95v1M196.5 176v1M71.5 99v1M197.5 177v1M174.5 157v1M260.5 224v1M228.5 201v1M202.5 182v1M820.5 222v1M261.5 225v1M175.5 158v1M203.5 183v1M917.5 276v1M815.5 219v1M890.5 259v1M199.5 179v1M88.5 110v1M911.5 272v1M258.5 222v1M200.5 180v1M95.5 115v1M61.5 92v1M863.5 243v1M259.5 223v1M252.5 217v1M68.5 97v1M221.5 196v1M240.5 209v1M189.5 170v1M201.5 181v1M935.5 286v1M190.5 171v1M253.5 218v1M887.5 257v1M186.5 167v1M275.5 233v1M241.5 210v1M216.5 192v1M100.5 118v1M191.5 172v1M882.5 254v1M85.5 108v1M187.5 168v1M204.5 184v1M268.5 229v1M903.5 267v1M188.5 169v1M181.5 163v1M251.5 216v1M217.5 193v1M236.5 206v1M940.5 289v1M231.5 203v1M224.5 198v1M182.5 164v1M225.5 199v1M178.5 160v1M920.5 278v1M254.5 219v1M908.5 270v1M914.5 274v1M179.5 161v1M79.5 104v1M64.5 94v1M127.5 132v1M255.5 220v1M180.5 162v1M92.5 113v1" fill="none" stroke="#ff00ff" stroke-width="1" shape-rendering="crispEdges"/>
<path d="M408 119.5h2M766 291.5h3M597 182.5h2M488 101.5h15M1074 378.5h2M331 201.5h2M736 274.5h2M158 344.5h2M210 344.5h3M963 344.5h2M168 348.5h3M192 348.5h5M970 348.5h2M1123 348.5h2M1029 388.5h5M1046 388.5h9M165 347.5h3M197 347.5h6M968 347.5h2M1022 385.5h2M1061 385.5h3M1095 369.5h2M1141 336.5h2M794 301.5h3M824 301.5h3M835 301.5h4M879 301.5h3M788 299.5h3M800 299.5h4M813 299.5h9M842 299.5h4M871 299.5h4M576 168.5h2M608 188.5h5M216 341.5h2M958 341.5h2M574 167.5h2M594 180.5h2M435 107.5h15M463 107.5h3M429 109.5h3M452 109.5h5M1070 381.5h2M478 103.5h5M507 103.5h4M148 338.5h2M220 338.5h2M1138 338.5h2M1006 373.5h2M1084 373.5h3M829 303.5h3M885 303.5h3M617 190.5h3M706 260.5h2M466 106.5h4M516 106.5h2M783 297.5h3M850 297.5h17M771 293.5h3M661 229.5h2M326 204.5h2M753 285.5h2M746 281.5h2M908 307.5h2M1101 365.5h2M232 327.5h2M1146 333.5h2M927 317.5h2M1064 384.5h3M151 340.5h2M1135 340.5h2M827 302.5h2M832 302.5h3M882 302.5h3M791 300.5h3M797 300.5h3M822 300.5h2M839 300.5h3M875 300.5h4M603 186.5h2M774 294.5h3M941 326.5h2M541 131.5h2M474 104.5h4M511 104.5h2M156 343.5h2M213 343.5h2M961 343.5h2M1131 343.5h2M741 277.5h2M423 112.5h2M235 325.5h2M786 298.5h2M804 298.5h9M846 298.5h4M867 298.5h4M725 269.5h2M919 313.5h2M931 319.5h2M989 359.5h2M175 350.5h4M183 350.5h4M605 187.5h3M701 257.5h2M581 171.5h2M600 184.5h2M913 310.5h2M727 270.5h3M915 311.5h2M1015 380.5h2M925 316.5h2M730 271.5h2M722 268.5h3M977 352.5h2M1034 389.5h12M891 305.5h15M769 292.5h2M982 355.5h2M427 110.5h2M425 111.5h2M757 287.5h2M483 102.5h5M503 102.5h4M759 288.5h2M917 312.5h2M751 284.5h2M162 346.5h3M203 346.5h4M966 346.5h2M1126 346.5h2M160 345.5h2M207 345.5h3M1128 345.5h2M696 254.5h2M432 108.5h3M450 108.5h2M457 108.5h6M1082 374.5h2M237 324.5h2M938 324.5h2M343 192.5h2M1148 332.5h2M711 263.5h2M1098 367.5h2M717 266.5h2M171 349.5h4M187 349.5h5M972 349.5h2M1121 349.5h2M935 322.5h2M1026 387.5h3M1055 387.5h3M421 113.5h2M761 289.5h2M763 290.5h3M579 170.5h2M732 272.5h2M987 358.5h2M649 219.5h2M929 318.5h2M948 331.5h2M923 315.5h2M749 283.5h2M755 286.5h2M921 314.5h2M412 117.5h3M677 242.5h2M692 252.5h2M588 176.5h2M694 253.5h2M406 120.5h2M613 189.5h4M328 203.5h2M154 342.5h2M780 296.5h3M715 265.5h2M698 255.5h2M1019 383.5h2M1067 383.5h2M333 200.5h2M777 295.5h3M179 351.5h4M975 351.5h2M591 178.5h2M945 329.5h2M888 304.5h3M626 195.5h2M1143 335.5h2M620 191.5h2M980 354.5h2M656 225.5h2M719 267.5h3M1093 370.5h2M1087 372.5h3M417 115.5h2M470 105.5h4M513 105.5h3M703 258.5h2M911 309.5h2M337 197.5h2M415 116.5h2M1103 364.5h2M1090 371.5h3M708 261.5h2M683 247.5h2M1080 375.5h2M991 360.5h2M993 361.5h2M1108 361.5h2M985 357.5h2M410 118.5h2M713 264.5h2M1106 362.5h2M584 173.5h2M906 306.5h2M666 233.5h2M685 248.5h2M623 193.5h2M1024 386.5h2M1058 386.5h3M1076 377.5h2M670 236.5h2M689 250.5h2M1010 376.5h2M1078 376.5h2M419 114.5h2M402 123.5h2M687 249.5h2M738 275.5h2M734 273.5h2M387.5 140v2M4.5 118v2M139.5 325v2M359.5 176v2M1169.5 310v1M313.5 218v1M25.5 168v2M113.5 291v1M937.5 323v1M33.5 182v2M636.5 206v1M22.5 162v2M940.5 325v1M372.5 160v1M532.5 121v1M1161.5 320v1M87.5 265v1M47.5 201v2M55.5 213v2M654.5 223v1M11.5 134v2M665.5 232v1M367.5 166v2M69.5 234v2M655.5 224v1M539.5 129v1M289.5 254v2M134.5 318v2M1133.5 342v1M305.5 227v1M1125.5 347v1M680.5 244v1M325.5 205v1M1114.5 356v1M380.5 150v1M1145.5 334v1M94.5 272v1M383.5 146v1M740.5 276v1M7.5 124v3M348.5 188v1M1137.5 339v1M15.5 144v3M681.5 245v1M28.5 174v2M36.5 187v1M261.5 296v1M300.5 233v2M375.5 156v2M565.5 158v1M285.5 261v2M1164.5 316v1M40.5 192v2M710.5 262v1M101.5 279v1M256.5 302v1M150.5 339v1M272.5 283v2M123.5 303v1M102.5 280v1M51.5 207v1M229.5 330v1M602.5 185v1M351.5 185v1M124.5 304v1M643.5 213v1M127.5 308v2M386.5 142v1M253.5 305v1M554.5 144v1M138.5 324v1M995.5 362v1M1156.5 325v1M1018.5 382v1M399.5 126v1M628.5 196v1M245.5 315v1M996.5 363v1M24.5 166v2M142.5 330v1M248.5 311v1M295.5 243v1M268.5 289v1M335.5 199v1M35.5 185v2M531.5 120v1M950.5 332v1M46.5 200v1M116.5 294v2M394.5 132v1M339.5 196v1M363.5 171v2M951.5 333v1M320.5 210v1M21.5 160v2M553.5 143v1M50.5 205v2M10.5 132v2M676.5 241v1M1003.5 370v1M291.5 250v2M1017.5 381v1M358.5 178v1M1168.5 311v2M520.5 109v1M141.5 328v2M315.5 216v1M17.5 149v3M137.5 322v2M374.5 158v1M108.5 286v1M564.5 157v1M1163.5 317v2M545.5 134v1M224.5 335v1M660.5 228v1M346.5 190v1M39.5 191v1M82.5 259v2M366.5 168v1M369.5 164v1M546.5 135v1M519.5 108v1M115.5 293v1M304.5 228v2M397.5 128v1M307.5 225v1M571.5 164v1M590.5 177v1M1002.5 369v1M382.5 147v2M1116.5 354v1M385.5 143v2M1105.5 363v1M1151.5 330v1M1013.5 378v1M1171.5 308v1M49.5 204v1M1097.5 368v1M57.5 216v2M275.5 278v2M572.5 165v1M126.5 307v1M89.5 267v1M954.5 336v2M299.5 235v2M389.5 138v1M984.5 356v1M377.5 154v1M244.5 316v2M140.5 327v1M1113.5 357v1M16.5 147v2M527.5 116v1M144.5 332v2M979.5 353v1M271.5 285v2M274.5 280v2M563.5 155v2M682.5 246v1M239.5 323v1M38.5 190v1M298.5 237v2M353.5 183v1M78.5 252v2M310.5 221v2M534.5 123v2M252.5 306v2M20.5 157v3M23.5 164v2M52.5 208v2M638.5 208v1M1158.5 323v1M125.5 305v2M53.5 210v1M350.5 186v1M294.5 244v2M56.5 215v1M9.5 129v3M318.5 212v1M263.5 294v1M286.5 259v2M556.5 147v1M1120.5 350v1M526.5 115v1M1155.5 326v1M645.5 215v1M231.5 328v1M1008.5 374v1M290.5 252v2M81.5 257v2M586.5 174v1M630.5 198v2M1009.5 375v1M37.5 188v2M548.5 137v2M282.5 266v2M631.5 200v1M228.5 331v1M533.5 122v1M88.5 266v1M255.5 303v1M118.5 297v1M555.5 145v2M12.5 136v3M953.5 335v1M357.5 179v1M401.5 124v1M278.5 273v2M281.5 268v2M314.5 217v1M60.5 221v1M247.5 312v2M215.5 342v1M250.5 309v1M270.5 287v1M95.5 273v1M143.5 331v1M1162.5 319v1M396.5 129v2M341.5 194v1M242.5 319v1M96.5 274v1M322.5 208v1M1111.5 359v1M77.5 250v2M277.5 275v2M147.5 337v1M345.5 191v1M365.5 169v1M629.5 197v1M80.5 255v2M997.5 364v1M566.5 159v1M41.5 194v1M258.5 299v1M599.5 183v1M293.5 246v2M317.5 213v2M360.5 175v1M103.5 281v1M74.5 244v2M952.5 334v1M1170.5 309v1M59.5 219v2M573.5 166v1M933.5 320v1M19.5 155v2M388.5 139v1M1004.5 371v1M128.5 310v1M373.5 159v1M219.5 339v1M934.5 321v1M1005.5 372v1M129.5 311v1M1072.5 380v1M371.5 161v2M132.5 315v2M223.5 336v1M110.5 288v1M146.5 335v2M1118.5 352v1M960.5 342v1M1153.5 328v1M352.5 184v1M306.5 226v1M76.5 248v2M633.5 202v2M1130.5 344v1M117.5 296v1M1150.5 331v1M265.5 292v1M547.5 136v1M1134.5 341v1M379.5 151v2M54.5 211v2M536.5 126v1M1115.5 355v1M391.5 135v1M44.5 197v2M651.5 220v1M73.5 242v2M226.5 333v1M521.5 110v1M640.5 210v1M241.5 320v2M18.5 152v3M8.5 127v2M522.5 111v1M297.5 239v2M273.5 282v1M625.5 194v1M355.5 181v1M109.5 287v1M1165.5 315v1M309.5 223v1M312.5 219v1M947.5 330v1M558.5 149v1M368.5 165v1M528.5 117v1M14.5 141v3M83.5 261v1M691.5 251v1M1160.5 321v1M529.5 118v1M700.5 256v1M632.5 201v1M84.5 262v1M288.5 256v2M535.5 125v1M1014.5 379v1M673.5 238v1M58.5 218v1M61.5 222v2M301.5 232v1M639.5 209v1M90.5 268v1M955.5 338v1M324.5 206v1M557.5 148v1M62.5 224v1M336.5 198v1M91.5 269v1M131.5 314v1M257.5 300v2M260.5 297v1M284.5 263v2M395.5 131v1M910.5 308v1M145.5 334v1M230.5 329v1M135.5 320v1M1110.5 360v1M646.5 216v1M97.5 275v1M29.5 176v2M79.5 254v1M647.5 217v1M390.5 136v2M98.5 276v1M587.5 175v1M658.5 226v1M280.5 270v2M549.5 139v1M75.5 246v2M672.5 237v1M1157.5 324v1M999.5 366v1M43.5 196v1M72.5 240v2M550.5 140v1M249.5 310v1M296.5 241v2M65.5 228v2M943.5 327v1M130.5 312v2M398.5 127v1M292.5 248v2M1117.5 353v1M362.5 173v1M669.5 235v1M316.5 215v1M319.5 211v1M42.5 195v1M378.5 153v1M1167.5 313v1M119.5 298v1M568.5 161v1M225.5 334v1M743.5 278v1M104.5 282v1M405.5 121v1M347.5 189v1M370.5 163v1M64.5 227v1M653.5 222v1M105.5 283v1M1140.5 337v1M308.5 224v1M523.5 112v1M583.5 172v1M68.5 233v1M1152.5 329v1M267.5 290v1M276.5 277v1M524.5 113v1M668.5 234v1M264.5 293v1M679.5 243v1M111.5 289v1M31.5 179v2M567.5 160v1M303.5 230v1M998.5 365v1M393.5 133v1M578.5 169v1M381.5 149v1M112.5 290v1M32.5 181v1M634.5 204v1M85.5 263v1M1021.5 384v1M635.5 205v1M86.5 264v1M240.5 322v1M243.5 318v1M537.5 127v1M63.5 225v2M71.5 238v2M965.5 345v1M354.5 182v1M311.5 220v1M538.5 128v1M641.5 211v1M957.5 340v1M133.5 317v1M560.5 151v2M1159.5 322v1M93.5 271v1M642.5 212v1M705.5 259v1M6.5 122v2M330.5 202v1M27.5 172v2M596.5 181v1M287.5 258v1M30.5 178v1M279.5 272v1M648.5 218v1M1100.5 366v1M13.5 139v2M530.5 119v1M323.5 207v1M1112.5 358v1M262.5 295v1M45.5 199v1M652.5 221v1M663.5 230v1M122.5 301v2M674.5 239v1M376.5 155v1M283.5 265v1M67.5 231v2M552.5 142v1M664.5 231v1M70.5 236v2M675.5 240v1M956.5 339v1M92.5 270v1M559.5 150v1M5.5 120v2M227.5 332v1M251.5 308v1M384.5 145v1M349.5 187v1M26.5 170v2M544.5 133v1M99.5 277v1M342.5 193v1M400.5 125v1M246.5 314v1M1154.5 327v1M269.5 288v1M100.5 278v1M404.5 122v1M551.5 141v1M622.5 192v1M570.5 163v1M1001.5 368v1M259.5 298v1M340.5 195v1M66.5 230v1M944.5 328v1M106.5 284v1M748.5 282v1M361.5 174v1M364.5 170v1M593.5 179v1M136.5 321v1M107.5 285v1M234.5 326v1M254.5 304v1M1069.5 382v1M356.5 180v1M659.5 227v1M1166.5 314v1M34.5 184v1M1073.5 379v1M569.5 162v1M1000.5 367v1M114.5 292v1M744.5 279v1M218.5 340v1M1119.5 351v1M1012.5 377v1M120.5 299v1M48.5 203v1M745.5 280v1M321.5 209v1M222.5 337v1M974.5 350v1M518.5 107v1M637.5 207v1M266.5 291v1M121.5 300v1M153.5 341v1M392.5 134v1M302.5 231v1M561.5 153v1M540.5 130v1M543.5 132v1M562.5 154v1M525.5 114v1M644.5 214v1" fill="none" stroke="#ff0000" stroke-width="1" shape-rendering="crispEdges"/>
<path d="M34 534.5h4M714 524.5h5M778 524.5h4M402 472.5h5M410 472.5h5M426 472.5h5M434 472.5h4M218 515.5h2M658 515.5h5M803 515.5h3M914 515.5h5M1066 515.5h4M698 521.5h4M787 521.5h3M954 521.5h5M962 521.5h5M970 521.5h5M578 516.5h4M634 516.5h5M642 516.5h5M650 516.5h5M666 516.5h5M674 516.5h4M922 516.5h4M1058 516.5h5M26 533.5h5M186 533.5h2M810 513.5h4M906 513.5h4M211 519.5h2M594 519.5h5M602 519.5h5M610 519.5h5M618 519.5h4M690 519.5h4M794 519.5h3M994 519.5h5M1002 519.5h5M938 520.5h5M946 520.5h5M978 520.5h5M986 520.5h5M82 548.5h4M194 528.5h2M746 528.5h5M754 528.5h5M514 491.5h4M58 540.5h4M171 540.5h3M291 487.5h3M498 487.5h4M1154 487.5h4M98 552.5h5M122 552.5h5M130 552.5h4M213 518.5h2M586 518.5h5M682 518.5h5M797 518.5h2M930 518.5h4M1010 518.5h5M1018 518.5h5M1026 518.5h5M1034 518.5h5M1042 518.5h5M205 522.5h2M227 511.5h3M565 511.5h2M818 511.5h4M898 511.5h4M267 497.5h3M531 497.5h3M307 481.5h3M474 481.5h4M386 473.5h5M394 473.5h5M277 493.5h2M90 550.5h4M138 550.5h5M203 523.5h2M706 523.5h5M842 506.5h5M866 506.5h5M722 525.5h4M1123 495.5h3M220 514.5h2M571 514.5h3M626 517.5h5M1050 517.5h5M42 536.5h4M181 536.5h2M547 503.5h2M1146 488.5h5M338 474.5h5M346 474.5h5M354 474.5h5M362 474.5h5M370 474.5h5M378 474.5h5M442 474.5h4M106 553.5h5M114 553.5h5M235 508.5h3M834 508.5h4M882 508.5h4M67 543.5h3M165 543.5h2M197 526.5h2M770 526.5h4M243 505.5h3M850 505.5h5M858 505.5h5M1075 512.5h3M154 547.5h4M1107 501.5h3M730 527.5h5M738 527.5h5M762 527.5h5M826 509.5h5M275 494.5h2M523 494.5h3M75 546.5h3M4 531.5h3M10 531.5h2M189 531.5h2M549 504.5h2M1099 504.5h3M299 484.5h3M12 532.5h3M18 532.5h5M251 502.5h3M490 485.5h4M1162 485.5h4M315 478.5h3M283 490.5h3M1138 490.5h4M330 475.5h5M258 500.5h4M539 500.5h3M482 483.5h4M1170 483.5h3M322 476.5h5M450 476.5h5M563 510.5h2M890 510.5h5M1082 510.5h4M50 538.5h4M1115 498.5h3M458 477.5h4M418 471.5h5M466 479.5h4M555 507.5h3M874 507.5h5M1091 507.5h3M506 489.5h4M163 544.5h2M179 537.5h2M1131 492.5h3M146 549.5h4M1070.5 514v1M314.5 479v1M66.5 542v1M38.5 535v1M262.5 499v1M790.5 520v1M134.5 551v1M446.5 475v1M94.5 551v1M1086.5 509v1M786.5 522v1M270.5 496v1M1142.5 489v1M1110.5 500v1M438.5 473v1M558.5 508v1M470.5 480v1M910.5 514v1M838.5 507v1M1118.5 497v1M210.5 520v1M1094.5 506v1M174.5 539v1M318.5 477v1M774.5 525v1M274.5 495v1M806.5 514v1M546.5 502v1M230.5 510v1M1126.5 494v1M462.5 478v1M1102.5 503v1M1166.5 484v1M902.5 512v1M170.5 541v1M554.5 506v1M934.5 519v1M238.5 507v1M726.5 526v1M1098.5 505v1M530.5 496v1M178.5 538v1M1134.5 491v1M926.5 517v1M266.5 498v1M502.5 488v1M86.5 549v1M1106.5 502v1M246.5 504v1M582.5 517v1M534.5 498v1M1114.5 499v1M494.5 486v1M1090.5 508v1M78.5 547v1M158.5 546v1M822.5 510v1M678.5 517v1M254.5 501v1M62.5 541v1M518.5 492v1M226.5 512v1M802.5 516v1M250.5 503v1M510.5 490v1M1122.5 496v1M74.5 545v1M310.5 480v1M562.5 509v1M1074.5 513v1M1078.5 511v1M286.5 489v1M54.5 539v1M570.5 513v1M234.5 509v1M1130.5 493v1M294.5 486v1M782.5 523v1M694.5 520v1M242.5 506v1M196.5 527v1M574.5 515v1M302.5 483v1M202.5 524v1M814.5 512v1M486.5 484v1M886.5 509v1M1158.5 486v1M542.5 501v1M298.5 485v1M622.5 518v1M162.5 545v1M526.5 495v1M478.5 482v1M306.5 482v1M282.5 491v1M702.5 522v1M70.5 544v1M222.5 513v1M538.5 499v1M46.5 537v1M290.5 488v1M150.5 548v1M188.5 532v1M522.5 493v1" fill="none" stroke="#ff0000" stroke-width="1" shape-rendering="crispEdges"/>
<path d="M162 611.5h2M173 611.5h2M195 611.5h3M229 611.5h2M419 611.5h3M440 611.5h2M772 611.5h2M144 624.5h3M506 624.5h2M546 624.5h2M742 624.5h4M898 624.5h2M926 624.5h2M987 624.5h5M1016 624.5h6M256 601.5h5M351 601.5h2M1107 601.5h3M1128 601.5h6M246 603.5h4M309 603.5h2M338 603.5h2M344 603.5h5M1102 603.5h2M1136 603.5h3M1150 603.5h4M4 626.5h2M138 626.5h4M512 626.5h5M640 626.5h3M646 626.5h4M666 626.5h2M672 626.5h6M707 626.5h5M737 626.5h2M931 626.5h2M1010 626.5h2M39 634.5h2M85 634.5h2M525 634.5h2M282 591.5h11M11 629.5h2M104 629.5h2M114 629.5h4M129 629.5h2M536 629.5h3M556 629.5h2M686 629.5h4M701 629.5h2M730 629.5h3M868 629.5h4M878 629.5h2M890 629.5h3M1005 629.5h2M175 612.5h2M182 612.5h2M198 612.5h4M216 612.5h13M442 612.5h2M770 612.5h2M806 612.5h2M850 612.5h3M177 613.5h2M202 613.5h14M480 613.5h2M612 613.5h2M846 613.5h4M1050 613.5h2M449 616.5h2M484 616.5h4M619 616.5h5M838 616.5h2M1046 616.5h2M494 618.5h2M595 618.5h10M760 618.5h3M832 618.5h3M963 618.5h11M1040 618.5h5M572 622.5h2M587 622.5h2M658 622.5h2M750 622.5h2M822 622.5h2M938 622.5h2M942 622.5h4M952 622.5h5M982 622.5h2M1026 622.5h4M8 628.5h3M96 628.5h2M131 628.5h3M539 628.5h2M554 628.5h2M636 628.5h2M682 628.5h4M703 628.5h2M726 628.5h4M733 628.5h2M866 628.5h2M880 628.5h3M886 628.5h4M269 596.5h2M360 596.5h2M382 596.5h2M394 596.5h11M447 615.5h2M608 615.5h2M616 615.5h3M624 615.5h5M766 615.5h2M810 615.5h2M840 615.5h3M186 609.5h2M190 609.5h2M232 609.5h2M415 609.5h2M426 609.5h6M437 609.5h2M474 609.5h3M778 609.5h6M790 609.5h4M152 619.5h2M496 619.5h3M579 619.5h3M593 619.5h2M758 619.5h2M830 619.5h2M961 619.5h2M974 619.5h2M1035 619.5h5M271 595.5h2M299 595.5h2M362 595.5h2M368 595.5h14M1164 595.5h5M236 607.5h2M316 607.5h2M330 607.5h3M460 607.5h10M1083 607.5h5M1093 607.5h2M263 599.5h2M304 599.5h2M355 599.5h2M1112 599.5h3M1118 599.5h4M6 627.5h2M98 627.5h2M101 627.5h2M134 627.5h4M541 627.5h2M638 627.5h2M650 627.5h3M668 627.5h4M678 627.5h4M705 627.5h2M712 627.5h14M735 627.5h2M864 627.5h2M883 627.5h3M894 627.5h2M1000 627.5h2M1008 627.5h2M147 623.5h2M504 623.5h2M662 623.5h2M746 623.5h4M820 623.5h2M916 623.5h10M936 623.5h2M946 623.5h6M984 623.5h3M992 623.5h5M1022 623.5h4M243 604.5h3M336 604.5h2M1060 604.5h2M1074 604.5h4M1099 604.5h3M1139 604.5h11M261 600.5h2M353 600.5h2M1110 600.5h2M1122 600.5h6M50 638.5h4M64 638.5h3M72 638.5h6M13 630.5h2M93 630.5h2M106 630.5h2M110 630.5h4M118 630.5h2M127 630.5h2M534 630.5h2M558 630.5h2M690 630.5h11M872 630.5h6M19 633.5h3M37 633.5h2M87 633.5h2M527 633.5h2M41 635.5h2M83 635.5h2M451 617.5h2M488 617.5h6M605 617.5h2M763 617.5h2M835 617.5h3M142 625.5h2M508 625.5h4M544 625.5h2M550 625.5h2M643 625.5h3M654 625.5h2M739 625.5h3M861 625.5h2M928 625.5h3M933 625.5h2M1012 625.5h4M158 614.5h2M179 614.5h2M445 614.5h2M610 614.5h2M614 614.5h2M843 614.5h3M250 602.5h6M340 602.5h4M349 602.5h2M1104 602.5h3M1134 602.5h2M1154 602.5h3M188 608.5h2M234 608.5h2M413 608.5h2M432 608.5h5M470 608.5h4M784 608.5h6M1088 608.5h5M238 606.5h2M314 606.5h2M318 606.5h4M326 606.5h4M333 606.5h2M1066 606.5h4M1080 606.5h3M1095 606.5h2M278 592.5h4M293 592.5h2M501 621.5h2M574 621.5h2M584 621.5h3M589 621.5h2M752 621.5h3M824 621.5h3M940 621.5h2M957 621.5h2M979 621.5h3M1030 621.5h2M46 637.5h4M67 637.5h5M78 637.5h2M15 631.5h2M26 631.5h6M91 631.5h2M108 631.5h2M120 631.5h3M125 631.5h2M531 631.5h3M560 631.5h3M499 620.5h2M576 620.5h3M582 620.5h2M591 620.5h2M755 620.5h3M816 620.5h2M827 620.5h3M959 620.5h2M976 620.5h3M1032 620.5h3M17 632.5h2M22 632.5h4M32 632.5h5M89 632.5h2M123 632.5h2M529 632.5h2M563 632.5h2M164 610.5h9M192 610.5h3M417 610.5h2M422 610.5h4M774 610.5h4M794 610.5h11M240 605.5h3M312 605.5h2M322 605.5h4M1062 605.5h4M1070 605.5h4M1078 605.5h2M1097 605.5h2M265 598.5h2M357 598.5h2M387 598.5h3M1115 598.5h3M1160 598.5h2M54 639.5h4M62 639.5h2M273 594.5h2M297 594.5h2M364 594.5h4M267 597.5h2M384 597.5h3M390 597.5h4M275 593.5h3M295 593.5h2M58 640.5h4M43 636.5h3M80 636.5h3M459.5 608v1M1048.5 615v1M150.5 621v1M607.5 616v1M303.5 598v1M571.5 623v1M635.5 626v2M1162.5 597v1M455.5 613v1M160.5 613v1M765.5 616v1M1052.5 612v1M149.5 622v1M1053.5 611v1M567.5 628v1M568.5 627v1M570.5 624v2M517.5 627v1M408.5 601v2M482.5 614v1M311.5 604v1M458.5 609v2M863.5 626v1M566.5 629v2M548.5 623v1M857.5 619v2M1007.5 628v1M998.5 625v1M818.5 621v1M412.5 607v1M185.5 610v1M301.5 596v1M665.5 625v1M483.5 615v1M805.5 611v1M549.5 624v1M819.5 622v1M812.5 616v1M653.5 626v1M633.5 623v1M1157.5 601v1M855.5 616v2M155.5 617v1M100.5 626v1M629.5 616v2M893.5 628v1M856.5 618v1M634.5 624v2M1059.5 605v1M154.5 618v1M478.5 611v1M307.5 601v1M411.5 605v2M859.5 622v2M897.5 625v1M814.5 618v1M1058.5 606v1M915.5 624v1M815.5 619v1M664.5 624v1M1045.5 617v1M913.5 626v1M914.5 625v1M520.5 630v2M1003.5 629v1M912.5 627v1M1049.5 614v1M853.5 613v2M521.5 632v1M453.5 616v1M454.5 614v2M657.5 623v1M477.5 610v1M306.5 600v1M184.5 611v1M632.5 621v2M1004.5 630v1M813.5 617v1M405.5 597v2M903.5 626v1M656.5 624v1M854.5 615v1M565.5 631v1M503.5 622v1M523.5 634v1M409.5 603v1M95.5 629v1M896.5 626v1M410.5 604v1M935.5 624v1M524.5 635v1M661.5 622v1M479.5 612v1M308.5 602v1M904.5 627v1M860.5 624v1M768.5 614v1M1057.5 607v1M769.5 613v1M900.5 623v1M999.5 626v1M808.5 613v1M630.5 618v2M552.5 626v1M1002.5 628v1M1055.5 609v1M1056.5 608v1M901.5 624v1M456.5 612v1M631.5 620v1M457.5 611v1M553.5 627v1M543.5 626v1M1054.5 610v1M151.5 620v1M156.5 616v1M569.5 626v1M809.5 614v1M444.5 613v1M103.5 628v1M359.5 597v1M522.5 633v1M907.5 630v1M910.5 629v1M335.5 605v1M911.5 628v1M902.5 625v1M407.5 600v1M997.5 624v1M908.5 631v1M909.5 630v1M858.5 621v1M439.5 610v1M181.5 613v1M660.5 621v1M518.5 628v1M519.5 629v1M905.5 628v1M302.5 597v1M1159.5 599v1M231.5 610v1M157.5 615v1M406.5 599v1M906.5 629v1M1158.5 600v1M1163.5 596v1M161.5 612v1" fill="none" stroke="#1e90ff" stroke-width="1" shape-rendering="crispEdges"/>
<g shape-rendering="crispEdges">
<line x1="5" y1="595.5" x2="1191" y2="595.5" stroke="#b4b4b4" stroke-width="1" stroke-dasharray="3 3"/>
<line x1="5" y1="635.5" x2="1191" y2="635.5" stroke="#b4b4b4" stroke-width="1" stroke-dasharray="3 3"/>
<rect x="3" y="50" width="1189" height="2" fill="#ff0000"/>
<rect x="3" y="149" width="1189" height="2" fill="#ff0000"/>
<rect x="3" y="257" width="1189" height="2" fill="#00d000"/>
<rect x="3" y="357" width="1189" height="2" fill="#4360e4"/>
<rect x="3" y="420" width="1189" height="2" fill="#4360e4"/>
<rect x="3" y="0" width="1" height="462" fill="#000"/>
<rect x="1191" y="0" width="1" height="462" fill="#000"/>
<rect x="3" y="461" width="1189" height="1" fill="#000"/>
<rect x="3" y="463" width="1" height="100" fill="#000"/>
<rect x="1191" y="463" width="1" height="100" fill="#000"/>
<rect x="3" y="463" width="1189" height="1" fill="#000"/>
<rect x="3" y="562" width="1189" height="1" fill="#000"/>
<rect x="3" y="564" width="1" height="102" fill="#000"/>
<rect x="1191" y="564" width="1" height="102" fill="#000"/>
<rect x="3" y="564" width="1189" height="1" fill="#000"/>
<rect x="3" y="665" width="1189" height="1" fill="#000"/>
<rect x="3" y="50" width="1" height="2" fill="#ff0000"/>
<rect x="1191" y="50" width="1" height="2" fill="#ff0000"/>
<rect x="3" y="149" width="1" height="2" fill="#ff0000"/>
<rect x="1191" y="149" width="1" height="2" fill="#ff0000"/>
<rect x="3" y="257" width="1" height="2" fill="#00d000"/>
<rect x="1191" y="257" width="1" height="2" fill="#00d000"/>
<rect x="3" y="357" width="1" height="2" fill="#4360e4"/>
<rect x="1191" y="357" width="1" height="2" fill="#4360e4"/>
<rect x="3" y="420" width="1" height="2" fill="#4360e4"/>
<rect x="1191" y="420" width="1" height="2" fill="#4360e4"/>
<rect x="1192" y="29" width="2" height="1" fill="#000"/>
<rect x="1192" y="62" width="2" height="1" fill="#000"/>
<rect x="1192" y="95" width="2" height="1" fill="#000"/>
<rect x="1192" y="128" width="2" height="1" fill="#000"/>
<rect x="1192" y="161" width="2" height="1" fill="#000"/>
<rect x="1192" y="194" width="2" height="1" fill="#000"/>
<rect x="1192" y="227" width="2" height="1" fill="#000"/>
<rect x="1192" y="260" width="2" height="1" fill="#000"/>
<rect x="1192" y="293" width="2" height="1" fill="#000"/>
<rect x="1192" y="326" width="2" height="1" fill="#000"/>
<rect x="1192" y="392" width="2" height="1" fill="#000"/>
<rect x="1192" y="425" width="2" height="1" fill="#000"/>
<rect x="1192" y="458" width="2" height="1" fill="#000"/>
<rect x="1192" y="359" width="2" height="1" fill="#000"/>
<rect x="1192" y="465" width="1" height="1" fill="#000"/>
<rect x="1192" y="561" width="1" height="1" fill="#000"/>
<rect x="1192" y="566" width="1" height="1" fill="#000"/>
<rect x="1192" y="501" width="1" height="1" fill="#000"/>
<rect x="1192" y="664" width="1" height="1" fill="#000"/>
<rect x="4" y="666" width="1" height="3" fill="#000"/>
<rect x="68" y="666" width="1" height="3" fill="#000"/>
<rect x="132" y="666" width="1" height="3" fill="#000"/>
<rect x="196" y="666" width="1" height="3" fill="#000"/>
<rect x="260" y="666" width="1" height="3" fill="#000"/>
<rect x="324" y="666" width="1" height="3" fill="#000"/>
<rect x="388" y="666" width="1" height="3" fill="#000"/>
<rect x="452" y="666" width="1" height="3" fill="#000"/>
<rect x="516" y="666" width="1" height="3" fill="#000"/>
<rect x="580" y="666" width="1" height="3" fill="#000"/>
<rect x="644" y="666" width="1" height="3" fill="#000"/>
<rect x="708" y="666" width="1" height="3" fill="#000"/>
<rect x="772" y="666" width="1" height="3" fill="#000"/>
<rect x="836" y="666" width="1" height="3" fill="#000"/>
<rect x="900" y="666" width="1" height="3" fill="#000"/>
<rect x="964" y="666" width="1" height="3" fill="#000"/>
<rect x="1028" y="666" width="1" height="3" fill="#000"/>
<rect x="1092" y="666" width="1" height="3" fill="#000"/>
<rect x="1156" y="666" width="1" height="3" fill="#000"/>
</g>
<text x="1197" y="33" font-size="10" fill="#000" stroke="#000" stroke-width="0.16" textLength="32.6" lengthAdjust="spacingAndGlyphs">116.180</text>
<text x="1197" y="66" font-size="10" fill="#000" stroke="#000" stroke-width="0.16" textLength="32.6" lengthAdjust="spacingAndGlyphs">114.365</text>
<text x="1197" y="99" font-size="10" fill="#000" stroke="#000" stroke-width="0.16" textLength="32.6" lengthAdjust="spacingAndGlyphs">112.550</text>
<text x="1197" y="132" font-size="10" fill="#000" stroke="#000" stroke-width="0.16" textLength="32.6" lengthAdjust="spacingAndGlyphs">110.735</text>
<text x="1197" y="165" font-size="10" fill="#000" stroke="#000" stroke-width="0.16" textLength="32.6" lengthAdjust="spacingAndGlyphs">108.920</text>
<text x="1197" y="198" font-size="10" fill="#000" stroke="#000" stroke-width="0.16" textLength="32.6" lengthAdjust="spacingAndGlyphs">107.050</text>
<text x="1197" y="231" font-size="10" fill="#000" stroke="#000" stroke-width="0.16" textLength="32.6" lengthAdjust="spacingAndGlyphs">105.235</text>
<text x="1197" y="264" font-size="10" fill="#000" stroke="#000" stroke-width="0.16" textLength="32.6" lengthAdjust="spacingAndGlyphs">103.420</text>
<text x="1197" y="297" font-size="10" fill="#000" stroke="#000" stroke-width="0.16" textLength="32.6" lengthAdjust="spacingAndGlyphs">101.605</text>
<text x="1196.4" y="330" font-size="10" fill="#000" stroke="#000" stroke-width="0.16" textLength="28" lengthAdjust="spacingAndGlyphs">99.735</text>
<text x="1196.4" y="396" font-size="10" fill="#000" stroke="#000" stroke-width="0.16" textLength="28" lengthAdjust="spacingAndGlyphs">96.105</text>
<text x="1196.4" y="429" font-size="10" fill="#000" stroke="#000" stroke-width="0.16" textLength="28" lengthAdjust="spacingAndGlyphs">94.290</text>
<text x="1196.4" y="462" font-size="10" fill="#000" stroke="#000" stroke-width="0.16" textLength="28" lengthAdjust="spacingAndGlyphs">92.475</text>
<g shape-rendering="crispEdges">
<rect x="1194" y="45" width="39" height="11" fill="#ff0000"/>
<rect x="1194" y="144" width="39" height="11" fill="#ff0000"/>
<rect x="1194" y="252" width="39" height="11" fill="#00d000"/>
<rect x="1194" y="352" width="34" height="11" fill="#4360e4"/>
<rect x="1194" y="415" width="34" height="11" fill="#4360e4"/>
<rect x="1194" y="200" width="39" height="11" fill="#000"/>
</g>
<text x="1197" y="54" font-size="10" fill="#fff" stroke="#fff" stroke-width="0.16" textLength="32.6" lengthAdjust="spacingAndGlyphs">115.000</text>
<text x="1197" y="153" font-size="10" fill="#fff" stroke="#fff" stroke-width="0.16" textLength="32.6" lengthAdjust="spacingAndGlyphs">109.500</text>
<text x="1197" y="261" font-size="10" fill="#fff" stroke="#fff" stroke-width="0.16" textLength="32.6" lengthAdjust="spacingAndGlyphs">103.500</text>
<text x="1196.4" y="361" font-size="10" fill="#fff" stroke="#fff" stroke-width="0.16" textLength="28" lengthAdjust="spacingAndGlyphs">98.000</text>
<text x="1196.4" y="424" font-size="10" fill="#fff" stroke="#fff" stroke-width="0.16" textLength="28" lengthAdjust="spacingAndGlyphs">94.500</text>
<text x="1197" y="209" font-size="10" fill="#fff" stroke="#fff" stroke-width="0.16" textLength="32.6" lengthAdjust="spacingAndGlyphs">106.472</text>
<text x="1194.3" y="474" font-size="10" fill="#000" stroke="#000" stroke-width="0.16" textLength="28" lengthAdjust="spacingAndGlyphs">2.9923</text>
<text x="1194.5" y="505" font-size="10" fill="#000" stroke="#000" stroke-width="0.16" textLength="18" lengthAdjust="spacingAndGlyphs">0.00</text>
<text x="1194.8" y="559" font-size="10" fill="#000" stroke="#000" stroke-width="0.16" textLength="30.6" lengthAdjust="spacingAndGlyphs">-4.9146</text>
<text transform="translate(1194.5,575) scale(0.92,1)" font-size="10" fill="#000" stroke="#000" stroke-width="0.16">100</text>
<text transform="translate(1193.3,599) scale(0.92,1)" font-size="10" fill="#000" stroke="#000" stroke-width="0.16">70</text>
<text transform="translate(1193.3,639) scale(0.92,1)" font-size="10" fill="#000" stroke="#000" stroke-width="0.16">30</text>
<text transform="translate(1194.6,662) scale(0.92,1)" font-size="10" fill="#000" stroke="#000" stroke-width="0.16">0</text>
<path d="M7 6h7l-3.5 4z" fill="#000"/>
<text x="18.2" y="11" font-size="10" fill="#000" stroke="#000" stroke-width="0.16" textLength="44.3" lengthAdjust="spacingAndGlyphs">USOil-,H4</text>
<text x="68.4" y="11" font-size="10" fill="#000" stroke="#000" stroke-width="0.16" textLength="33" lengthAdjust="spacingAndGlyphs">106.211</text>
<text x="104.3" y="11" font-size="10" fill="#000" stroke="#000" stroke-width="0.16" textLength="33" lengthAdjust="spacingAndGlyphs">106.582</text>
<text x="140.2" y="11" font-size="10" fill="#000" stroke="#000" stroke-width="0.16" textLength="33" lengthAdjust="spacingAndGlyphs">106.128</text>
<text x="176.1" y="11" font-size="10" fill="#000" stroke="#000" stroke-width="0.16" textLength="33" lengthAdjust="spacingAndGlyphs">106.472</text>
<text x="7.2" y="476" font-size="10" fill="#000" stroke="#000" stroke-width="0.16" textLength="66.3" lengthAdjust="spacingAndGlyphs">MACD(12,26,9)</text>
<text x="76.7" y="476" font-size="10" fill="#000" stroke="#000" stroke-width="0.16" textLength="27.6" lengthAdjust="spacingAndGlyphs">1.8962</text>
<text x="107.9" y="476" font-size="10" fill="#000" stroke="#000" stroke-width="0.16" textLength="27.6" lengthAdjust="spacingAndGlyphs">1.4600</text>
<text x="7.6" y="577" font-size="10" fill="#000" stroke="#000" stroke-width="0.16" textLength="31.7" lengthAdjust="spacingAndGlyphs">RSI(14)</text>
<text x="42" y="577" font-size="10" fill="#000" stroke="#000" stroke-width="0.16" textLength="33.6" lengthAdjust="spacingAndGlyphs">70.3777</text>
<text transform="translate(3.5,678) scale(0.92,1)" font-size="10" fill="#000" stroke="#000" stroke-width="0.16">14&#160;Mar&#160;2022</text>
<text transform="translate(67.5,678) scale(0.92,1)" font-size="10" fill="#000" stroke="#000" stroke-width="0.16">15&#160;Mar&#160;12:00</text>
<text transform="translate(131.5,678) scale(0.92,1)" font-size="10" fill="#000" stroke="#000" stroke-width="0.16">16&#160;Mar&#160;20:00</text>
<text transform="translate(195.5,678) scale(0.92,1)" font-size="10" fill="#000" stroke="#000" stroke-width="0.16">18&#160;Mar&#160;04:00</text>
<text transform="translate(259.5,678) scale(0.92,1)" font-size="10" fill="#000" stroke="#000" stroke-width="0.16">21&#160;Mar&#160;08:00</text>
<text transform="translate(323.5,678) scale(0.92,1)" font-size="10" fill="#000" stroke="#000" stroke-width="0.16">22&#160;Mar&#160;16:00</text>
<text transform="translate(387.5,678) scale(0.92,1)" font-size="10" fill="#000" stroke="#000" stroke-width="0.16">24&#160;Mar&#160;00:00</text>
<text transform="translate(451.5,678) scale(0.92,1)" font-size="10" fill="#000" stroke="#000" stroke-width="0.16">25&#160;Mar&#160;08:00</text>
<text transform="translate(515.5,678) scale(0.92,1)" font-size="10" fill="#000" stroke="#000" stroke-width="0.16">28&#160;Mar&#160;12:00</text>
<text transform="translate(579.5,678) scale(0.92,1)" font-size="10" fill="#000" stroke="#000" stroke-width="0.16">29&#160;Mar&#160;20:00</text>
<text transform="translate(643.5,678) scale(0.92,1)" font-size="10" fill="#000" stroke="#000" stroke-width="0.16">31&#160;Mar&#160;04:00</text>
<text transform="translate(707.5,678) scale(0.92,1)" font-size="10" fill="#000" stroke="#000" stroke-width="0.16">1&#160;Apr&#160;12:00</text>
<text transform="translate(771.5,678) scale(0.92,1)" font-size="10" fill="#000" stroke="#000" stroke-width="0.16">4&#160;Apr&#160;16:00</text>
<text transform="translate(835.5,678) scale(0.92,1)" font-size="10" fill="#000" stroke="#000" stroke-width="0.16">6&#160;Apr&#160;00:00</text>
<text transform="translate(899.5,678) scale(0.92,1)" font-size="10" fill="#000" stroke="#000" stroke-width="0.16">7&#160;Apr&#160;08:00</text>
<text transform="translate(963.5,678) scale(0.92,1)" font-size="10" fill="#000" stroke="#000" stroke-width="0.16">8&#160;Apr&#160;16:00</text>
<text transform="translate(1027.5,678) scale(0.92,1)" font-size="10" fill="#000" stroke="#000" stroke-width="0.16">11&#160;Apr&#160;20:00</text>
<text transform="translate(1091.5,678) scale(0.92,1)" font-size="10" fill="#000" stroke="#000" stroke-width="0.16">13&#160;Apr&#160;04:00</text>
<text transform="translate(1155.5,678) scale(0.92,1)" font-size="10" fill="#000" stroke="#000" stroke-width="0.16">14&#160;Apr&#160;12:00</text>
<text x="717.2 752.2 787.2 822.2 857.2" y="113.8" font-size="35" fill="#ff0000" font-family="'Liberation Sans', 'Noto Sans CJK SC', sans-serif">多空转折点</text>
<text x="888.8" y="113.7" font-size="37.5" fill="#ff0000">1</text>
<text transform="translate(905.735,113.7) scale(1.0,1)" font-size="37.5" fill="#ff0000" stroke="#fff" stroke-width="0.4">0</text>
<text transform="translate(927.372,113.7) scale(1.0,1)" font-size="37.5" fill="#ff0000" stroke="#fff" stroke-width="0.4">3</text>
<text transform="translate(957.099,113.7) scale(1.0,1)" font-size="37.5" fill="#ff0000" stroke="#fff" stroke-width="0.4">5</text>
<text x="947.3" y="113.7" font-size="37.5" fill="#ff0000">.</text>
</svg>
</body></html>
